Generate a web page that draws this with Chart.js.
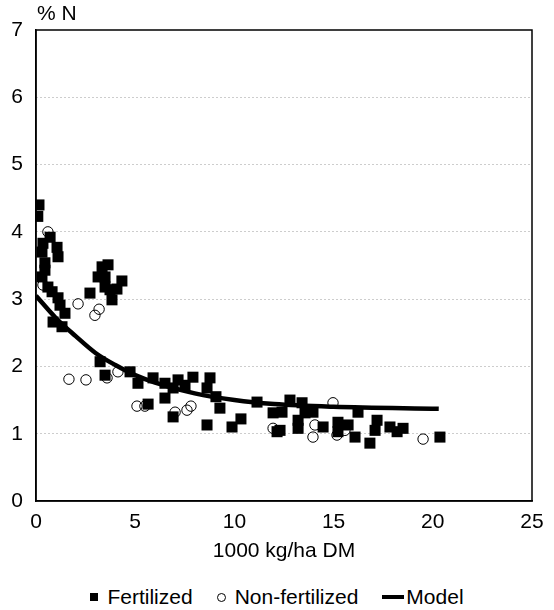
<!DOCTYPE html>
<html>
<head>
<meta charset="utf-8">
<script src="https://cdn.jsdelivr.net/npm/chart.js@4/dist/chart.umd.min.js"></script>
<style>
  html, body { margin: 0; padding: 0; background: #fff; }
  #wrap { position: relative; width: 554px; height: 610px; }
  #legend {
    position: absolute; left: 0; top: 583px; width: 554px; height: 28px;
    display: flex; justify-content: center; align-items: center;
    font: 21px Arial, 'Liberation Sans', sans-serif; color: #000;
  }
  #legend .item { display: flex; align-items: center; margin: 0 12px; }
  #legend .sq { width: 8px; height: 8px; background: #000; margin-right: 9px; }
  #legend .ci { width: 7px; height: 7px; border: 1px solid #000; border-radius: 50%; margin-right: 9px; }
  #legend .ln { width: 22px; height: 4px; background: #000; margin-right: 2px; }
</style>
</head>
<body>
<div id="wrap">
  <canvas id="nChart" width="554" height="578"></canvas>
  <div id="legend">
    <span class="item"><span class="sq"></span>Fertilized</span>
    <span class="item"><span class="ci"></span>Non-fertilized</span>
    <span class="item"><span class="ln"></span>Model</span>
  </div>
</div>
<script>
// values
const fertX = [0.15, 0.09, 0.71, 0.35, 1.06, 1.11, 0.30, 0.45, 0.45, 0.30, 0.60, 0.81, 1.11, 1.21, 1.46, 0.86, 1.31,
  3.63, 3.33, 3.13, 3.48, 4.33, 3.48, 3.73, 4.08, 2.72, 3.83,
  3.23, 3.48, 4.74, 5.14, 5.90, 6.50, 7.16, 7.91, 8.77, 6.50, 6.91, 7.51, 8.62, 9.07, 9.27, 5.65, 6.91, 8.62, 9.88, 10.33, 11.14, 11.95, 12.15,
  12.80, 13.41, 12.40, 13.21, 13.56, 13.96, 12.30, 13.21, 14.47, 15.22, 15.73, 16.08, 15.22, 16.23, 17.19, 17.09, 16.83, 17.84, 18.20, 18.50, 20.36];
const fertY = [4.40, 4.23, 3.92, 3.83, 3.77, 3.63, 3.70, 3.54, 3.43, 3.33, 3.18, 3.11, 3.02, 2.91, 2.79, 2.66, 2.59,
  3.51, 3.48, 3.33, 3.33, 3.27, 3.18, 3.14, 3.15, 3.09, 2.99,
  2.07, 1.87, 1.92, 1.75, 1.83, 1.75, 1.80, 1.84, 1.83, 1.53, 1.68, 1.72, 1.68, 1.55, 1.38, 1.44, 1.25, 1.13, 1.10, 1.22, 1.47, 1.31, 1.03,
  1.50, 1.46, 1.32, 1.20, 1.31, 1.32, 1.05, 1.08, 1.10, 1.17, 1.13, 0.95, 1.03, 1.32, 1.20, 1.05, 0.86, 1.10, 1.03, 1.08, 0.95];

const nonFertX = [0.60, 0.35, 2.12, 3.18, 2.97, 1.66, 2.52, 3.58, 4.13, 5.09, 5.49, 7.01, 7.61, 7.81, 11.95, 14.97, 13.96, 15.17, 15.57, 14.06, 19.51];
const nonFertY = [4.00, 3.21, 2.93, 2.85, 2.76, 1.81, 1.80, 1.83, 1.92, 1.41, 1.41, 1.32, 1.35, 1.41, 1.08, 1.46, 0.95, 0.98, 1.05, 1.13, 0.92];

const modelX = [0, 1, 2, 3, 4, 5, 6, 8, 10, 12, 15, 20.3];
const modelY = [3.05, 2.72, 2.45, 2.20, 2.02, 1.87, 1.76, 1.60, 1.50, 1.44, 1.40, 1.37];

const xTicks = [0, 5, 10, 15, 20, 25];
const yTicks = [0, 1, 2, 3, 4, 5, 6, 7];

const toPoints = (xs, ys) => xs.map((x, i) => ({ x: x, y: ys[i] }));

const FONT = "Arial, 'Liberation Sans', sans-serif";

// box around the plot + "% N" label
const framePlugin = {
    id: 'frame',
    afterDraw(chart) {
        const { ctx, chartArea: a } = chart;
        ctx.save();
        ctx.strokeStyle = '#000';
        ctx.lineWidth = 1.5;
        ctx.strokeRect(a.left, a.top, a.right - a.left, a.bottom - a.top);
        ctx.fillStyle = '#000';
        ctx.font = '21px ' + FONT;
        ctx.textBaseline = 'middle';
        ctx.fillText('% N', 37, 14);
        ctx.restore();
    }
};

new Chart(document.getElementById('nChart'), {
    type: 'scatter',
    data: {
        datasets: [
            {
                label: 'Fertilized',
                data: toPoints(fertX, fertY),
                pointStyle: 'rect',
                pointRadius: 7.8,
                backgroundColor: '#000',
                borderColor: '#000',
                borderWidth: 0
            },
            {
                label: 'Non-fertilized',
                data: toPoints(nonFertX, nonFertY),
                pointStyle: 'circle',
                pointRadius: 5.2,
                backgroundColor: 'rgba(0,0,0,0)',
                borderColor: '#000',
                borderWidth: 1
            },
            {
                label: 'Model',
                data: toPoints(modelX, modelY),
                showLine: true,
                pointRadius: 0,
                borderColor: '#000',
                backgroundColor: '#000',
                borderWidth: 4.5,
                cubicInterpolationMode: 'monotone'
            }
        ]
    },
    options: {
        responsive: false,
        animation: false,
        layout: { padding: { left: 0, top: 30, right: 22, bottom: 0 } },
        plugins: {
            tooltip: { enabled: false },
            legend: { display: false }
        },
        scales: {
            x: {
                type: 'linear',
                min: 0,
                max: 25,
                afterBuildTicks: s => { s.ticks = xTicks.map(v => ({ value: v })); },
                afterFit: s => { s.height = 77; },
                grid: { display: false, drawTicks: false },
                border: { color: '#000', width: 1.5 },
                ticks: { color: '#000', font: { family: FONT, size: 21 }, padding: 9, maxRotation: 0 },
                title: {
                    display: true,
                    text: '1000 kg/ha DM',
                    color: '#000',
                    font: { family: FONT, size: 21 },
                    padding: { top: 4, bottom: 14 }
                }
            },
            y: {
                min: 0,
                max: 7,
                afterBuildTicks: s => { s.ticks = yTicks.map(v => ({ value: v })); },
                afterFit: s => { s.width = 36; },
                grid: {
                    drawTicks: false,
                    color: c => (c.tick.value > 0 && c.tick.value < 7) ? '#9a9a9a' : 'rgba(0,0,0,0)',
                    lineWidth: 1
                },
                border: { color: '#000', width: 1.5, dash: [1, 3] },
                ticks: { color: '#000', font: { family: FONT, size: 21 }, padding: 13 }
            }
        }
    },
    plugins: [framePlugin]
});
</script>
</body>
</html>
